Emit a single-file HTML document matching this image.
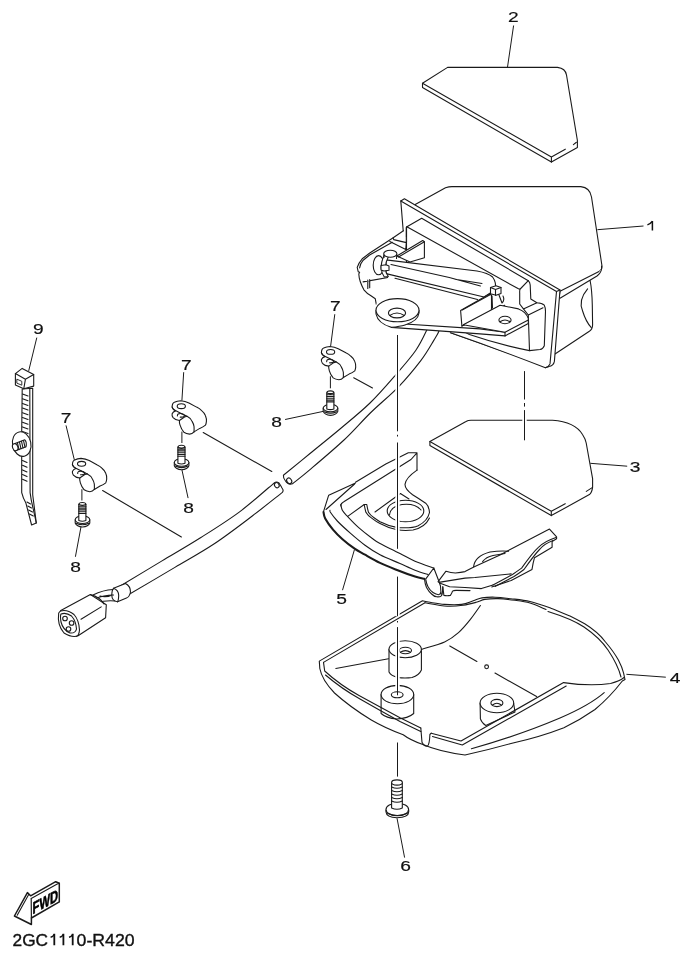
<!DOCTYPE html>
<html><head><meta charset="utf-8">
<style>
html,body{margin:0;padding:0;background:#fff;}
body{width:693px;height:958px;overflow:hidden;position:relative;}
svg{position:absolute;left:0;top:0;will-change:transform;}
text{font-family:"Liberation Sans",sans-serif;fill:#111;}
.l{fill:none;stroke:#1a1a1a;stroke-width:1.1;stroke-linejoin:round;stroke-linecap:round;}
.w{fill:#fff;stroke:#1a1a1a;stroke-width:1.1;stroke-linejoin:round;}
.f{fill:#fff;stroke:none;}
.t{fill:none;stroke:#1a1a1a;stroke-width:1;}
.dd{fill:none;stroke:#1a1a1a;stroke-width:1;stroke-dasharray:34 4 3 4;}
</style></head>
<body>
<svg width="693" height="958" viewBox="0 0 693 958">

<!-- screw 6 -->
<g id="s6">
<path class="w" d="M386,810 L386,812 Q386.5,817.5 397,817.8 Q408.5,817.5 408.7,812 L408.7,810 Z"/>
<ellipse class="w" cx="397.3" cy="809.5" rx="11.3" ry="6.3"/>
<path class="l" d="M387,813 Q397,818 408,813"/>
<path class="w" d="M391.6,783 L391.6,808 Q397,810.5 402.3,808 L402.3,783 Z"/>
<ellipse class="w" cx="397" cy="782.5" rx="5.4" ry="2.6"/>
<path class="l" d="M391.6,787 Q397,789.5 402.3,787 M391.6,790.5 Q397,793 402.3,790.5 M391.6,794 Q397,796.5 402.3,794 M391.6,797.5 Q397,800 402.3,797.5 M391.6,801 Q397,803.5 402.3,801"/>
</g>
<defs>
<g id="clip">
<path class="w" d="M-0.07,6.51 Q0,2.5 2.15,1.75 Q5,0.3 8.5,0.16 Q13,0.5 16.75,2.38 L24.37,6.51 Q27.5,8 29.45,10 Q32.5,12.5 33.26,15.08 Q34.5,18 34.21,20.8 Q34,23 33.26,24.6 Q31,26.5 27.55,27.8 L21.83,31.27 Q20,33.5 17.4,33.5 Q14,33.2 11.67,31.6 Q9,28.5 7.86,24.6 Q7,22 7.23,19.84 Q3,19.5 0.88,17 Q-0.5,15 -0.07,13.2 Q0.8,11 3.4,10.3 Q0.5,9 -0.07,6.51 Z"/>
<path class="l" d="M-0.07,6.51 Q0.8,8.8 2.78,9.7 L8.5,12.54 L14.85,15.7 Q18.5,17.5 19.9,20.8 Q21.5,23.5 21.83,25.9 Q22,29 21.83,31.27"/>
<path class="l" d="M7.23,19.84 L12.3,16.35 L14.85,15.7"/>
<ellipse class="l" cx="9.1" cy="5.6" rx="4.1" ry="2.4"/>
<path class="l" d="M5.2,15.3 Q5,12.8 8.5,12.9 Q11.5,13.3 12.6,15.2 Q11,16.8 8,16.5"/>
</g>
<g id="scr8">
<path class="w" d="M0,4.2 L0,7.5 Q1.5,11.2 7.3,11.5 Q13.2,11.2 14.6,7.5 L14.6,4.2 Z"/>
<ellipse class="w" cx="7.3" cy="4.2" rx="7.3" ry="3.8"/>
<path class="l" d="M1,7.8 Q7.3,10.8 13.6,7.8"/>
<path class="w" d="M3.6,-11 Q3.6,-13 7.15,-13 Q10.7,-13 10.7,-11 L10.7,5 Q7.15,6.5 3.6,5 Z"/>
<path class="l" d="M3.6,-9.2 L10.7,-9.2 M3.6,-7.4 L10.7,-7.4 M3.6,-5.6 L10.7,-5.6 M3.6,-3.8 L10.7,-3.8 M3.6,-2 L10.7,-2 M3.6,-11 Q7.15,-9.5 10.7,-11"/>
</g>
</defs>
<!-- LABELS -->
<g font-size="15" class="lab" style="stroke:#111;stroke-width:0.18">
<text id="lb0" transform="translate(508.0,22.4) scale(1.28,0.97)">2</text>
<text id="lb2" transform="translate(629.8,471.5) scale(1.28,0.97)">3</text>
<text id="lb3" transform="translate(669.7,683.2) scale(1.28,0.97)">4</text>
<text id="lb4" transform="translate(336.2,604.3) scale(1.28,0.97)">5</text>
<text id="lb5" transform="translate(400.3,870.5) scale(1.28,0.97)">6</text>
<text id="lb6" transform="translate(330.0,310.7) scale(1.28,0.97)">7</text>
<text id="lb7" transform="translate(181.1,369.6) scale(1.28,0.97)">7</text>
<text id="lb8" transform="translate(60.8,422.6) scale(1.28,0.97)">7</text>
<text id="lb9" transform="translate(271.2,426.8) scale(1.28,0.97)">8</text>
<text id="lb10" transform="translate(183.2,512.5) scale(1.28,0.97)">8</text>
<text id="lb11" transform="translate(70.2,572.0) scale(1.28,0.97)">8</text>
<text id="lb12" transform="translate(33.0,333.9) scale(1.28,0.97)">9</text>
</g>
<path d="M652.4,221 L652.4,230.6 M652.4,221.2 Q650.5,224 647.4,224.9" style="fill:none;stroke:#111;stroke-width:1.5"/>
<g id="code" style="stroke:#111;stroke-width:0.35">
<text x="12.6" y="945.6" font-size="16.3" textLength="35.5" lengthAdjust="spacingAndGlyphs">2GC</text>
<path d="M54.3,933.7 L54.3,945.3 M63.4,933.7 L63.4,945.3 M72.7,933.7 L72.7,945.3" style="fill:none;stroke-width:1.8"/>
<path d="M54.3,934.2 Q53.2,936.6 50.6,937.2 M63.4,934.2 Q62.3,936.6 59.7,937.2 M72.7,934.2 Q71.6,936.6 69,937.2" style="fill:none;stroke-width:1.5"/>
<text x="76.6" y="945.6" font-size="16.3" textLength="58" lengthAdjust="spacingAndGlyphs">0-R420</text>
</g>
<!-- LEADERS -->
<g class="t">
<path d="M513.6,25.5 L507.5,67.1"/>
<path d="M597.4,229.7 L643.5,226"/>
<path d="M590.3,463.3 L627.2,466.2"/>
<path d="M626.4,674.3 L665.8,677.2"/>
<path d="M342.5,590.2 L354.4,549.8"/>
<path d="M397,818.2 L404.6,857.6"/>
<path d="M334.8,314.2 L330.6,346.3"/>
<path d="M183.7,372.2 L181.9,400.6"/>
<path d="M66,425.4 L74.4,460.1"/>
<path d="M285.1,419.5 L324.1,411.2"/>
<path d="M181.9,469.7 L188.1,498.1"/>
<path d="M75.4,556.8 L81,526.8"/>
<path d="M36.8,337.6 L28.7,370.9"/>
</g>

<!-- PART 2 -->
<g>
<path class="w" d="M422.5,83.3 L447.6,67.4 L557.5,67.4 Q565.5,68.5 566.5,75 L577.4,140.5 L577.4,147.6 L551.4,162.1 L422.5,87.6 Z"/>
<path class="l" d="M422.5,83.3 L551.4,157 L565.3,149.2 M573.4,144.6 L576.4,142.3 M551.4,157 L551.4,162.1"/>
</g>



<!-- HARNESS -->
<g id="harness">
<path class="l" d="M102.6,490.5 L181.4,537 M203.2,432.5 L271.8,471.5 M353.7,377.8 L372.5,388"/>
<!-- lower tube -->
<path class="w" d="M119.0,586.7 C126.2,582.4 148.3,569.1 162.0,560.9 C175.7,552.7 187.9,545.7 200.9,537.5 C213.9,529.3 227.7,520.7 239.9,511.6 C252.1,502.5 268.6,487.6 274.3,482.8 Q276.5,481 279,483 Q281,486 282,488 Q284,490.5 282.4,492.4 C277.5,496.2 264.3,506.9 252.9,515.5 C241.5,524.1 226.9,535.4 213.9,544.0 C200.9,552.6 189.7,558.6 174.9,567.4 C160.1,576.2 133.3,591.9 125.0,596.8 Z"/>
<ellipse class="l" cx="276.8" cy="485.2" rx="2.2" ry="2.7" transform="rotate(-35 276.8 485.2)"/>
<!-- upper tube -->
<path class="w" d="M283.4,475.2 C287.8,471.6 300.6,461.2 310.0,453.5 C319.4,445.8 330.0,437.4 340.0,429.0 C350.0,420.6 360.7,412.0 370.0,403.0 C379.3,394.0 388.0,383.8 395.6,375.0 C403.2,366.2 410.5,358.0 415.7,350.5 C420.9,343.0 424.7,334.4 426.8,330.0 C428.9,325.6 428.2,325.0 428.5,324.0 L440.0,324.0 C439.8,325.2 439.9,328.6 438.9,331.3 C437.9,334.0 436.8,335.5 433.8,340.4 C430.8,345.3 426.7,352.9 420.8,360.6 C414.9,368.3 406.9,378.1 398.5,386.8 C390.1,395.5 379.4,404.1 370.3,413.0 C361.2,421.9 354.1,430.6 344.0,440.0 C333.9,449.4 318.6,462.3 310.0,469.6 C301.4,476.9 295.4,481.4 292.5,483.8 Q288,485 285.5,481 Q283,478 283.4,475.2 Z"/>
<ellipse class="l" cx="289.2" cy="480.8" rx="2.3" ry="3" transform="rotate(-35 289.2 480.8)"/>
<!-- sleeve -->
<path class="w" d="M113.5,588.3 L125.5,583.5 Q130.5,586 130.5,592 Q129.5,597 126.5,598 L117.5,601.8 Q112,601 111.8,595.5 Q111.8,590 113.5,588.3 Z"/>
<path class="l" d="M113.5,588.3 Q118.5,590 118.7,595.5 Q118.5,600.5 117.5,601.8"/>
<!-- wires -->
<path class="l" d="M93,595 Q103,590 113,589.5 M94,599 Q104,595 113.5,595 M96,603 Q106,600 115,601 M100,596 Q106,598 112,595"/>
<!-- connector -->
<path class="w" d="M60.8,610.5 L90.4,594.6 L106.3,604.7 L105.6,617.7 L78.1,635.8 Q72,638 64,633 Q57,625 58.7,613 Z"/>
<path class="l" d="M90.4,594.6 Q100,597 104,604 M81,619.2 L101.2,606.9"/>
<path class="l" d="M60.5,611 Q67,609 74,614.5 Q79,620 79.5,630 Q79,636 76,636.5"/>
<path class="l" d="M61,614 Q66,612 71.5,616 Q76,621 76.5,629 Q75.5,633.5 70,633 Q63,630 61,622 Q60,616 61,614 Z"/>
<circle class="l" cx="65" cy="618.5" r="2.3"/>
<circle class="l" cx="71.6" cy="623" r="2.3"/>
<circle class="l" cx="68.5" cy="629" r="2.3"/>
</g>
<use href="#clip" x="321.5" y="346.3"/>
<use href="#clip" x="172.2" y="400.6"/>
<use href="#clip" x="72.5" y="458.2"/>
<use href="#scr8" x="323.2" y="403.9"/>
<use href="#scr8" x="174.3" y="458.3"/>
<use href="#scr8" x="75.2" y="515.5"/>

<!-- TIE 9 -->
<g id="tie">
<path class="w" d="M22.2,389 L21.7,432 L21.7,492.6 Q23,498 25.9,503.1 L31.6,525 L36.3,523 L32.7,494.7 L32.7,388.2 Z"/>
<path class="l" d="M29.8,389 L30.1,492.6 Q31,500 33,508 L36.3,523"/>
<path class="l" d="M22.5,394 L28,396 M22.5,398.7 L28,400.7 M22.5,403.4 L28,405.4 M22.5,408.1 L28,410.1 M22.5,412.8 L28,414.8 M22.5,417.5 L28,419.5 M22.5,422.2 L28,424.2 M22.5,426.9 L28,428.9 M22.5,431.6 L28,433.6"/>
<path class="l" d="M22.5,460.5 L27,462.5 M22.5,465.2 L27,467.2 M22.5,469.9 L27,471.9 M22.5,474.6 L27,476.6 M22.5,479.3 L27,481.3 M27,502 L30.5,504 M27.8,506 L31.5,508 M28.6,510 L32.5,512 M29.4,514 L33.3,516"/>
<!-- cube head -->
<path class="w" d="M15.4,373.6 L22.2,368.4 L33.7,374.6 L33.7,386.1 L23.8,388.7 L15.4,385 Z"/>
<path class="l" d="M15.4,373.6 L25.4,379.3 L33.7,374.6 M25.4,379.3 L23.8,388.7"/>
<path class="l" d="M17.2,379.3 L21.8,381.3 L21.8,385.2 L17.2,383.3 Z" style="stroke-width:0.9"/>
<!-- washer -->
<ellipse class="w" cx="21.7" cy="444.1" rx="9.2" ry="12.4" transform="rotate(-12 21.7 444.1)"/>
<path class="w" d="M15,443.6 L24.8,439.8 Q27,442 26,446.8 L15.5,450.8 Z"/>
<ellipse class="w" cx="15.2" cy="447.2" rx="2.6" ry="3.6" transform="rotate(-20 15.2 447.2)"/>
<path class="l" d="M17.5,443 L19,449.6 M19.5,442.2 L21,448.8 M21.5,441.4 L23,448 M23.5,440.6 L25,447.2"/>
</g>
<!-- FWD -->
<g id="fwd">
<path class="w" d="M14.4,916 L27.4,892.6 L30.6,895.8 L55.7,881.7 L59.3,883.3 L59.3,901.9 L31.4,918 L31.4,924.5 Z" style="stroke-width:1.5"/>
<path class="l" d="M17.2,915.2 L28.7,894.6 M31.2,898.6 L56.8,884.2 L59.3,883.3" style="stroke-width:1.1"/>
<text x="0" y="0" font-size="16.5" font-weight="bold" textLength="25.5" lengthAdjust="spacingAndGlyphs" transform="translate(32.6,914.2) skewY(-28.5)" style="fill:#000;stroke:#000;stroke-width:0.6">FWD</text>
<path class="l" d="M31.2,898.8 L31.4,918" style="stroke-width:1.2"/>
</g>
<!-- PART 1 -->
<g id="p1">
<path class="w" d="M415.2,204.5 L445.5,187.8 Q449,186.6 452,186.6 L580.8,186.6 Q590,187.5 591.5,197 L602,266 Q602,270 599.5,271.3 L560,291.3 L548,367 L450.6,332.8 Z"/>
<path class="f" d="M599.5,271.3 L601.6,268.5 Q601,273 597,276 L560,298.2 L555,354 L589,331.5 Q592.5,329.5 592.6,325 L592.3,305 Z"/>
<path class="l" d="M601.6,266 L601.6,268.5 Q601,273 597,276 L560,298.2 M590.1,280.5 Q592,290 592.3,305 L592.6,325 Q592.5,329.5 589,331.5 L555,354"/>
<path class="l" d="M587.6,288.8 Q578,300 582.6,311 Q586,322 591.3,327.6"/>
<!-- flange -->
<path class="f" d="M400.8,200.9 L404.4,198.8 L560,290 L554.4,361.4 Q553.5,366 548.8,366.4 L545.4,367.8 Q500,350 450.6,332.8 L402.9,290 Z"/>
<path class="l" d="M403.2,230.8 L400.8,200.9 L404.4,198.8 L560,290 L554.4,361.4 Q553.5,366 548.8,366.4 L545.4,367.8 Q500,350 450.6,332.8"/>
<path class="l" d="M400.8,200.9 L556.5,291.5 L560,290 M556.5,291.5 L550,363.9 Q549,366.5 545.4,367.8"/>
<!-- inner box -->
<path class="w" d="M406.5,226.9 L421.7,218.2 L528.3,280.7 Q530,282 530.2,285 L530.8,299 L536.9,302.7 Q542,303 544.3,305.2 Q545.5,307.5 545.5,311.3 L544.3,345.7 Q543,349 540,349.5 L529.5,350.6 Q500,345 469.4,334.6 L406.5,300 Z"/>
<path class="l" d="M407.3,226.9 L518,288.6 Q519.5,289.3 520.2,289 L528.3,280.7 M520.2,289 Q519.5,290 519.7,293 L519.7,304 L523.4,308.9 L536.9,302.7 M523.4,308.9 L528.3,315 L543,307.7 M528.3,315 L529.5,350.6 M406.5,226.9 L406.5,242"/>
</g>

<!-- bracket -->
<g id="br">
<path class="f" d="M393.2,237.8 L369.4,253.3 L362.2,258.8 Q358.5,263 357.2,267.4 L358.2,271.7 L359.6,272.3 L358.8,274 Q359,278 360.3,281.8 Q361.8,286 363.9,289.8 Q367,293.5 370.6,295.5 L375.3,298.8 L376.3,304.4 L389.4,274.4 L389.4,260.3 L396.9,254.7 L406.3,241.6 L406.3,236.9 Z"/>
<path class="l" d="M393.2,237.8 L369.4,253.3 L362.2,258.8 Q358.5,263 357.2,267.4 L358.2,271.7 L359.6,272.3 L358.8,274 Q359,278 360.3,281.8 Q361.8,286 363.9,289.8 Q367,293.5 370.6,295.5 L375.3,298.8 L376.3,304.4"/>
<path class="l" d="M392.3,242.3 L369.6,255 L363.2,260.2 Q360,264 359.6,268"/>
<path class="l" d="M393.2,237.8 L402.3,231.5 L403.5,230.8 M393.2,237.8 L393.7,239.6 L406.3,242.6 M406.3,227.5 L406.3,242.6 M389.8,241.6 L405.8,249.4 L406.3,242.6"/>
<path class="l" d="M363.1,281.9 L395,276.3 M367.8,280 L367.8,288.5 M369.7,279.5 L369.7,287.8"/>
<!-- back vertical plate -->
<path class="w" d="M396.9,256 L422.7,240.5 L424.4,241.8 L424.4,257.8 L410,262 Z"/>
<path class="l" d="M398.5,257 L424.4,241.8"/>
<!-- flat plate -->
<path class="f" d="M376.3,304.4 L389.4,274.4 L484,297 L491.5,311 L506,304.7 L528.1,317.7 L528.1,321.5 L505,335.9 L480,333.9 L391.5,327.4 Q377,323 376,312 Z"/>
<path class="l" d="M389.5,323 L480,328.9 L505,332.2 M391.5,327.4 L480,333.9 L505,335.9"/>
<!-- rod -->
<path class="w" d="M386,259.9 L477,271 Q488,273 492.6,277 Q497,283 495,290 L484,297 L386,273.6 Z"/>
<path class="l" d="M391,264.5 L449.3,277.5 L480.4,286 M455,279.2 L482,283.5"/>
<path class="l" d="M395,278.2 L477.5,299.5"/>
<!-- clamp left -->
<ellipse class="w" cx="378.6" cy="265.2" rx="5.4" ry="9.6"/>
<path class="w" d="M384.3,255 Q381,262 381.2,268 Q381.5,273 384.3,277 L388.3,276.5 Q385.5,273 385.3,268 Q385.5,262 388.5,256.5 Z"/>
<path class="w" d="M381,265.5 L386,264.8 L389,266 L389,270.3 L384,271 L381,270 Z"/>
<ellipse class="w" cx="390.3" cy="253.8" rx="6.6" ry="3.5"/>
<path class="l" d="M384,255 L384,257.5 M396.8,255 L396.5,258.5"/>
<!-- right vertical plate -->
<path class="w" d="M460.6,310.5 L489.2,294.3 L491.5,295 L491.5,311 L461.9,326.1 Z"/>
<path class="l" d="M462.2,310 L490.5,294.5 M461.9,326.1 L504.7,305.3"/>
<!-- cube clip right -->
<path class="w" d="M490.5,287.5 L496,285.7 L501,287.5 L501,293.5 L496,295.2 L490.5,293.7 Z"/>
<path class="l" d="M490.5,287.5 L495.5,289.5 L501,287.5 M495.5,289.5 L495.5,295.2 M492,296 L492.5,308 M499,295 L502,303 Q505,300 503,296"/>
<!-- tab -->
<path class="w" d="M463.3,324.8 L500.1,305.2 L518.5,308.9 Q526,311.5 528.3,318.5 L528.3,323.5 L505,335.9 L505,332.2 Z"/>
<path class="l" d="M505,332.2 L528.3,320"/>
<ellipse class="w" cx="505" cy="320" rx="6.1" ry="3.7"/>
<path class="l" d="M500,321.8 Q505,318.3 510,321.8"/>
<!-- lug -->
<path class="w" d="M376,310.2 L376,314 Q378,323.5 391.5,327.4 Q400,326.5 405,325 Q418,321 419,313 L419,310.2 Z"/>
<ellipse class="w" cx="397.5" cy="310.2" rx="21.5" ry="11.6"/>
<ellipse class="l" cx="397" cy="313" rx="8.6" ry="4.9"/>
<path class="l" d="M389.8,315.5 Q397,310.5 404.2,315.5"/>
</g>

<!-- PART 3 -->
<g id="p3">
<path class="w" d="M429.9,441.6 L466,421.5 Q468,420.3 471,420.3 L552.5,420.3 Q575,422 582.5,434.5 Q585.5,439 586.2,443 L592.6,478.7 L592.6,487.1 Q592,492.5 589.4,494.6 L551.3,515.6 L429.9,445.5 Z"/>
<path class="l" d="M429.9,441.6 L551.3,511.3 L565.2,503.7 M586.3,491.4 L591.8,487.9 M551.3,511.3 L551.3,515.6"/>
</g>

<!-- PART 4 -->
<g id="p4">
<path class="w" d="M319.3,661.1 L422.5,600.7 C423.8,601.0 426.4,601.7 430.0,602.3 C433.6,602.9 439.1,604.0 444.4,604.4 C449.7,604.8 456.9,605.0 461.7,604.4 C466.5,603.8 469.9,601.9 473.3,600.8 C476.7,599.7 478.4,598.5 482.0,597.9 C485.6,597.3 490.2,597.1 495.0,597.2 C499.8,597.3 505.0,598.0 510.8,598.7 C516.6,599.4 523.3,599.9 530.0,601.5 C536.7,603.1 544.2,605.8 550.9,608.2 C557.6,610.6 566.8,614.7 570.0,616.0 Q578,620 584.7,623.8 Q598,632 605.5,642 Q614,652 618.4,660.1 Q622,667 623.6,673.1 L625,679.6 L622.3,681 Q610,697 595,709.5 Q580,720 563.9,727.7 Q540,737 512,743.2 Q488,750 465,755 Q440,752 422.9,744.6 Q410,740 403.2,734.8 Q385,728 371.3,720 Q350,707 334.5,693 Q322,680 319.8,668.5 Z"/>
<!-- bosses -->
<path class="w" d="M389,649.3 L389,672 Q391,676 398,677.5 Q405,678.5 412,677.5 Q419,675.5 421.4,670 L421.4,649.3 Z"/>
<ellipse class="w" cx="405.2" cy="649.3" rx="16.2" ry="8.5"/>
<ellipse class="l" cx="405.4" cy="650.5" rx="6.1" ry="3.3"/>
<path class="l" d="M400.3,652.3 Q405.4,649 410.5,652.3"/>
<path class="w" d="M381.1,694.6 L381.1,713.5 Q386,718 397,719 Q408,718.5 413.7,713.5 L413.7,694.6 Z"/>
<ellipse class="w" cx="397.4" cy="694.6" rx="16.3" ry="9.2"/>
<ellipse class="l" cx="397.2" cy="694.8" rx="5.9" ry="3"/>
<path class="w" d="M480.1,703 L480.4,718.9 Q482,723.5 485.8,725.4 L515,712 L513.6,703 Z"/>
<ellipse class="w" cx="496.9" cy="703" rx="16.8" ry="9.7"/>
<ellipse class="l" cx="496.9" cy="703" rx="6" ry="3.6"/>
<path class="l" d="M492.5,705 Q496.9,701.5 501.3,705"/>

<g class="l">
<path d="M323.5,662.4 L425,602.8"/>
<path d="M425.0,602.8 C428.7,603.4 440.9,605.8 447.3,606.2 C453.7,606.6 458.4,605.9 463.2,605.2 C468.0,604.6 472.6,603.3 476.2,602.3 C479.8,601.3 481.2,600.0 484.8,599.4 C488.4,598.8 493.0,598.5 498.0,598.6 C503.0,598.8 509.7,599.6 515.0,600.3 C520.3,601.0 524.8,601.5 530.0,603.0 C535.2,604.5 543.3,608.4 546.0,609.5"/>
<path d="M548,611.5 Q572,619 584,627 Q600,638 608,650 Q618,665 621,677"/>
<path d="M323.5,662.4 L324.7,671 Q340,685 359,695.5 Q380,707 400,717.7 L420.8,728"/>
<path d="M325.5,675 Q342,689 360,699 Q381,711 400,721.6 L420.8,731.5"/>
<path d="M420.8,728 L422,742.3 Q424,746.5 427.3,746.2 Q429.5,745 429.9,734.5 L431.2,733.2"/>
<path d="M431.2,733.2 L461,741 L563.6,682.6 Q590,686.5 610.6,683.5 Q620,681 624,677.5"/>
<path d="M432.5,736.5 L462.3,745 L566.2,686"/>
<path d="M471.4,748.8 Q520,735 560,718 Q590,705 604.2,692.6"/>
<path d="M480.4,605.5 C478.7,607.9 473.6,615.4 470.0,619.9 C466.4,624.4 462.7,628.9 458.5,632.6 C454.3,636.3 450.8,639.1 444.6,641.9 C438.4,644.7 425.4,648.1 421.5,649.4"/>
<path d="M335.8,668.5 L388.5,658.7"/>
<path d="M449.8,645.9 L476.9,661.4 M495,673.1 L536.6,696.5"/>
</g>
<circle class="l" cx="486.6" cy="666.8" r="1.9"/>
</g>
<!-- PART 5 -->
<g id="p5" class="l">
<path d="M323.5,511.7 L328.7,495.2 L355.5,483.1 M326,509.5 L354.6,484"/>
<path style="stroke-width:2.1" d="M323.5,512.0 C323.8,513.1 323.6,515.5 325.2,518.4 C326.8,521.3 330.1,526.1 333.0,529.6 C335.9,533.1 338.9,536.0 342.5,539.2 C346.1,542.4 350.9,546.1 354.6,548.7 C358.4,551.3 360.8,552.3 365.0,554.7 C369.2,557.1 374.7,560.4 380.0,562.9 C385.3,565.4 391.2,567.7 397.0,570.0 C402.8,572.3 410.4,575.1 415.0,576.6 C419.6,578.1 422.8,578.4 424.4,578.8"/>
<path d="M330.0,510.2 C330.1,510.5 329.2,510.5 330.4,512.3 C331.6,514.1 334.0,517.5 337.3,521.0 C340.6,524.5 345.7,529.1 350.3,533.1 C354.9,537.1 360.1,541.6 365.0,545.2 C369.9,548.8 374.2,551.7 380.0,554.7 C385.8,557.8 394.2,560.9 400.0,563.5 C405.8,566.1 410.3,568.4 415.0,570.2 C419.7,572.0 425.8,573.8 428.0,574.5"/>
<path d="M340.8,504.5 C341.1,505.5 341.4,508.6 342.5,510.6 C343.6,512.6 344.9,513.7 347.7,516.6 C350.4,519.5 354.9,524.3 359.0,527.9 C363.1,531.5 368.5,535.7 372.0,538.3 C375.5,540.9 375.3,541.0 380.0,543.5 C384.7,546.0 394.2,550.5 400.0,553.5 C405.8,556.5 409.4,558.8 415.0,561.2 C420.6,563.6 430.7,566.9 433.8,568.0"/>
<path d="M425.8,578.8 L433.8,568 L438.8,581 L440.5,586 L441,594 M424.4,578.8 Q425,584 426.5,587.5 Q429,592 431.6,594 Q434,596.5 436.6,596.8 Q440,597 441,596.1 Q442.5,594.5 442.4,592.5 L442.8,586.7 M425.8,579.5 Q426.5,584 428,586.7 Q430,590.5 433,592.5 Q436,594.5 438.8,594.7 Q440.5,594 440.6,592.5"/>
<path d="M355.5,482.2 L385.8,464 L408.3,452.8 L417,452.8 L417,470.1 M340.8,506 Q340.5,503.5 344.2,501.5 L411,459.5 L417,452.8"/>
<path d="M347.7,516.4 L364.2,504.5 L366.8,504.5 Q367.5,509 368.5,512.3 Q370.5,515.5 373.7,517.5 Q378,520.5 380,521.8 Q388,526 397.6,527.6 Q412,528.5 418.2,525.7 Q427.6,521 429.5,512.5 Q429,506 425.7,503.2 Q418,498 412.6,494.7 Q405,489 405,484.4 Q405.5,478 417,470.1"/>
<path d="M364.2,504.5 Q365,509 365.9,512.3 Q368,516 372,518.4 Q376,521.5 380,523.6 Q388,528 397,529.8 Q405,531 413,530 Q425,527.5 429.5,518"/>
<ellipse cx="405.5" cy="511" rx="18.3" ry="10.8"/>
<path d="M389.5,515 Q390,507 402,504.5 Q415,503 421,510"/>
<path d="M375,512 L400.4,493.5 L409,499"/>
<path d="M438.1,581.7 L446,571.2 Q451,573 455.4,573 Q461,572.5 465,571.6 Q470,569 474.9,566.6 L500,554.9 L549.5,529.1 L556.6,536.9 L556.6,538.8 L552.1,541.4 L552.1,547.3 L534.5,557.7 Q533,563 532,569.4 L511.2,580.4 L491.7,586.9"/>
<path d="M438.8,582.4 L465,578.1 L474.9,577.5 L511.2,573.9"/>
<path d="M556,537.5 Q545,541 538.4,547.3 Q533,552 521.6,568.1 Q516,572 512.5,574.5 L493,584.9 M553,540.5 Q544,544 540,549 Q535,554 524,569.5 Q518,574 514,576.5 L495,586.5"/>
<path d="M439.5,583.1 L449.6,586.7 L465,587.5 L481.4,588.6 L493,584.9 M442.8,586.7 L443.9,595.4 Q447,596 450.4,595.4 Q452,593 452.5,591.1 Q453.5,590.4 456,590.4 L470,590.6"/>
<path d="M473.6,566.6 Q475,556 490,552 Q500,550.5 508.6,551.2 M482.6,561.6 Q486,557 493,555.5 L505,553.5"/>
</g>
<!-- dash-dot center lines -->
<path d="M397.5,336 L397.5,431.3 M397.5,434.8 L397.5,436.5 M397.5,442.5 L397.5,548.8 M397.5,576.6 L397.5,616.2 M397.5,621 L397.5,622.5 M397.5,627.1 L397.5,690 M397.5,742.5 L397.5,776.6 M524.5,371.1 L524.5,399.5 M524.5,403 L524.5,406.6 M524.5,410.1 L524.5,440.3" style="fill:none;stroke:#fff;stroke-width:4.4"/>

<g class="t">
<path d="M397.5,335 L397.5,431.3 M397.5,434.8 L397.5,436.5 M397.5,442.5 L397.5,548.8 M397.5,576.6 L397.5,616.2 M397.5,621 L397.5,622.5 M397.5,627.1 L397.5,695.3 M397.5,742.5 L397.5,776.6"/>
<path d="M524.5,371.1 L524.5,399.5 M524.5,403 L524.5,406.6 M524.5,410.1 L524.5,440.3"/>
<path d="M330.4,376.3 L330.4,388.3 M181.9,431.6 L181.9,443 M81.9,489.2 L81.9,500.5"/>
</g>
</svg>
</body></html>
